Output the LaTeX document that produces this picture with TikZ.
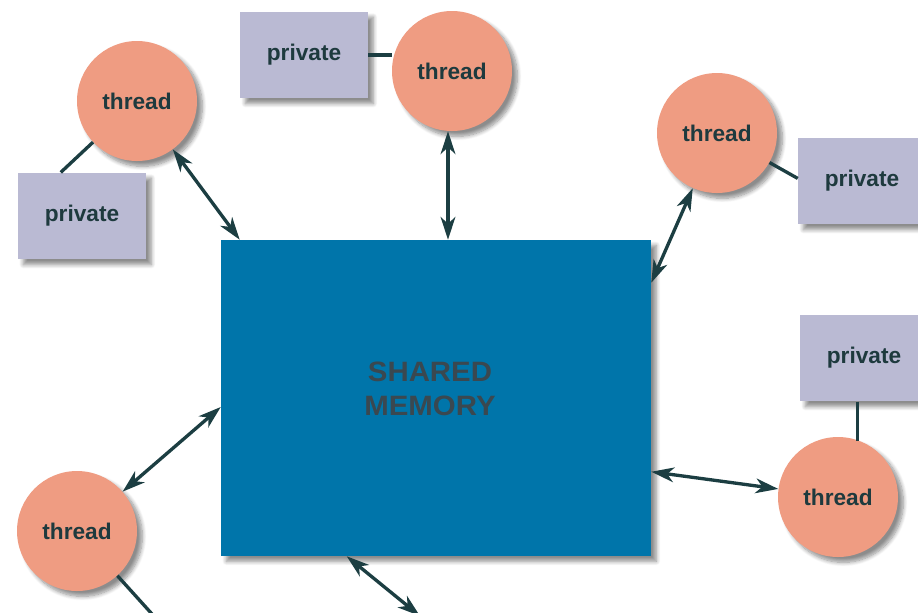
\documentclass[tikz,border=0pt]{standalone}
\usepackage{fontspec}
\setmainfont{Liberation Sans}
\usetikzlibrary{arrows.meta,calc,shadows.blur}

\definecolor{memblue}{RGB}{0,117,170}
\definecolor{threadfill}{RGB}{239,156,130}
\definecolor{privfill}{RGB}{186,186,211}
\definecolor{linkcol}{RGB}{28,62,66}
\definecolor{labelcol}{RGB}{30,58,62}
\definecolor{memtext}{RGB}{58,72,80}

\begin{document}
\begin{tikzpicture}[x=0.75pt,y=-0.75pt,
  soft/.style={blur shadow={shadow xshift=4pt,shadow yshift=-4pt,
      shadow blur radius=3pt,shadow blur steps=8,shadow opacity=45}},
  threadnode/.style={circle,fill=threadfill,minimum size=90pt,inner sep=0pt,
      soft,font=\bfseries\fontsize{17}{20}\selectfont,text=labelcol},
  privnode/.style={rectangle,fill=privfill,minimum width=96pt,minimum height=65pt,
      inner sep=0pt,soft,font=\bfseries\fontsize{17}{20}\selectfont,text=labelcol},
  memnode/.style={rectangle,fill=memblue,minimum width=322.5pt,minimum height=237pt,
      inner sep=0pt,soft},
  memlabel/.style={font=\bfseries\fontsize{21}{26}\selectfont,text=memtext,
      align=center,xscale=1.05},
  link/.style={draw=linkcol,line width=2.5pt},
  tip/.style={},
  both/.style={link,{Stealth[length=17pt,width=11pt,inset=5pt]}-{Stealth[length=17pt,width=11pt,inset=5pt]}}
]
\useasboundingbox (0,0) rectangle (918,612);
\clip (0,0) rectangle (918,612);

% shared memory block and its caption
\node[memnode] (mem) at (436,398) {};
\node[memlabel] (memtxt) at (430,389) {SHARED\\MEMORY};

% threads
\node[threadnode] (t1) at (137,101) {thread};
\node[threadnode] (t2) at (452,71)  {thread};
\node[threadnode] (t3) at (717,133) {thread};
\node[threadnode] (t4) at (838,497) {thread};
\node[threadnode] (t5) at (77,531)  {thread};

% private stores
\node[privnode] (p1) at (82,216)  {private};
\node[privnode] (p2) at (304,55)  {private};
\node[privnode] (p3) at (862,181) {private};
\node[privnode] (p4) at (864,358) {private};

% attachment points
\coordinate (m1) at ($(mem.north west)+(19,0)$);
\coordinate (m3) at ($(mem.north east)+(0,43)$);
\coordinate (m4) at ($(mem.north east)+(0,232)$);
\coordinate (m5) at ($(mem.west)+(0,9)$);
\coordinate (m6) at ($(mem.south west)+(126,0)$);
\coordinate (q1) at ($(p1.north west)+(43,0)$);
\coordinate (q3) at ($(p3.north west)+(0,41)$);
\coordinate (q4) at ($(p4.south west)+(58,0)$);
\coordinate (b1) at (152,614);
\coordinate (b2) at (420,616);

% thread <-> shared memory
\draw[both] (t1) -- (m1);
\draw[both] ($(t2.south)+(-4,0)$) -- ($(t2.south |- mem.north)+(-4,0)$);
\draw[both] (t3) -- (m3);
\draw[both] (m4) -- (t4);
\draw[both] (t5) -- (m5);
\draw[both] (m6) -- (b2);

% thread -- private
\draw[link] (t1) -- (q1);
\draw[link] (p2.east) -- (p2.east -| t2.west);
\draw[link] (t3) -- (q3);
\draw[link] (q4) -- ($(q4 |- t4.north)+(0,4)$);
\draw[link] (t5) -- (b1);
\end{tikzpicture}
\end{document}
